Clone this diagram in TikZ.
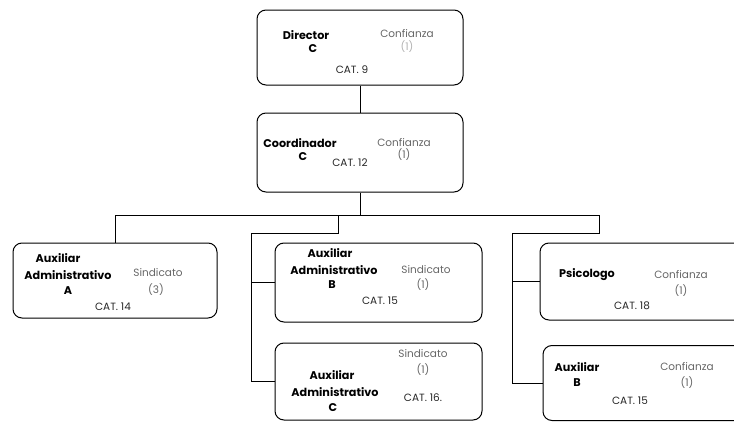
\documentclass[tikz,border=0pt]{standalone}
\usepackage{fontspec}
\setmainfont{Poppins}
\usepackage{xcolor}
\usepackage{tikz}
\usetikzlibrary{positioning}

\begin{document}
\begin{tikzpicture}[x=1pt, y=-1pt, font=\fontsize{10.5}{12}\selectfont,
  puesto/.style={draw, rounded corners=9pt, line width=1pt, inner sep=0pt},
  nombre/.style={font=\fontsize{11.2}{12}\selectfont\bfseries, inner sep=0pt},
  plaza/.style={text=black!60, inner sep=0pt},
  cat/.style={text=black!85, inner sep=0pt},
  rel/.style={line width=0.8pt}]
\useasboundingbox (0,0) rectangle (734,423);
\clip (0,0) rectangle (734,423);
% puestos
\node[puesto, minimum width=206pt, minimum height=75pt] (director) at (360,47.5) {};
\node[puesto, minimum width=206pt, minimum height=79pt] (coordinador) at (360,152.5) {};
\node[puesto, minimum width=204pt, minimum height=75pt] (auxA) at (115,280.5) {};
\node[puesto, minimum width=207pt, minimum height=79pt] (auxB) at (378.5,282.5) {};
\node[puesto, minimum width=207pt, minimum height=77pt] (auxC) at (378.5,381.5) {};
\node[puesto, minimum width=220pt, minimum height=77pt] (psicologo) at (650,281.5) {};
\node[puesto, minimum width=217pt, minimum height=75pt] (auxiliarB) at (651.5,383) {};
% textos
\node[nombre] (dirN) at (306,35) {Director};
\node[nombre] (dirL) at (313,49) {C};
\node[plaza] (dirP) at (407,34) {Confianza};
\node[plaza, text=black!30] (dirU) at (407,47) {(1)};
\node[cat] (dirC) at (352,70) {CAT. 9};
\node[nombre] (coorN) at (300,143) {Coordinador};
\node[nombre] (coorL) at (303,157) {C};
\node[plaza] (coorP) at (404,143) {Confianza};
\node[plaza] (coorU) at (404,155) {(1)};
\node[cat] (coorC) at (350,163) {CAT. 12};
\node[nombre] (aNa) at (58,258) {Auxiliar};
\node[nombre] (aNb) at (68,275) {Administrativo};
\node[nombre] (aL) at (68,291) {A};
\node[plaza] (aP) at (158,273) {Sindicato};
\node[plaza] (aU) at (156,290) {(3)};
\node[cat] (aC) at (113,307) {CAT. 14};
\node[nombre] (bNa) at (330,253) {Auxiliar};
\node[nombre] (bNb) at (334,270) {Administrativo};
\node[nombre] (bL) at (332,285) {B};
\node[plaza] (bP) at (426,270) {Sindicato};
\node[plaza] (bU) at (423,285) {(1)};
\node[cat] (bC) at (380,301) {CAT. 15};
\node[plaza] (cP) at (423,354) {Sindicato};
\node[plaza] (cU) at (423,370) {(1)};
\node[nombre] (cNa) at (332,375) {Auxiliar};
\node[nombre] (cNb) at (335,392) {Administrativo};
\node[cat] (cC) at (423,398) {CAT. 16.};
\node[nombre] (cL) at (333,408) {C};
\node[nombre] (psN) at (587,275) {Psicologo};
\node[plaza] (psP) at (681,275) {Confianza};
\node[plaza] (psU) at (681,291) {(1)};
\node[cat] (psC) at (632,306) {CAT. 18};
\node[nombre] (abN) at (577,367) {Auxiliar};
\node[nombre] (abL) at (577,383) {B};
\node[plaza] (abP) at (687,367) {Confianza};
\node[plaza] (abU) at (687,383) {(1)};
\node[cat] (abC) at (630,401) {CAT. 15};
% lineas
\coordinate (busR) at (599,215);
\coordinate (vueltaR) at (599,233);
\coordinate (bajaR) at (512,233);
\coordinate (vueltaM) at (338,233);
\coordinate (bajaM) at (251,233);
\draw[rel] (director) -- (coordinador);
\draw[rel] (coordinador.south) -- (coordinador.south |- busR);
\draw[rel] (auxA.north) |- (busR) -- (vueltaR) -- (bajaR) |- (auxiliarB.west);
\draw[rel] (bajaR |- psicologo.west) -- (psicologo.west);
\draw[rel] (vueltaM |- busR) -- (vueltaM) -- (bajaM) |- (auxC.west);
\draw[rel] (bajaM |- auxB.west) -- (auxB.west);
\end{tikzpicture}
\end{document}
